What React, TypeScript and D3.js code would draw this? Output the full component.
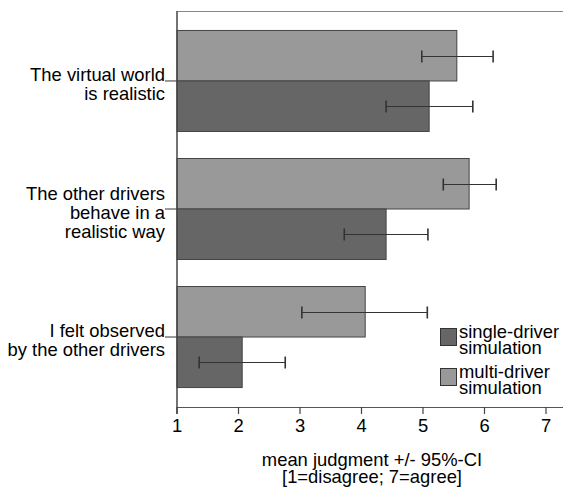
import React, { useEffect, useRef } from 'react';
import * as d3 from 'd3';

// questionnaire items, top to bottom
const categories = ['virtual', 'drivers', 'observed'];
const categoryLines = [
  ['The virtual world', 'is realistic'],
  ['The other drivers', 'behave in a', 'realistic way'],
  ['I felt observed', 'by the other drivers'],
];

const seriesKeys = ['multi', 'single'];
const seriesNames = [['single-driver', 'simulation'], ['multi-driver', 'simulation']];

// means and 95% CI bounds
const multiMean = [5.55, 5.75, 4.06];
const multiLow = [4.98, 5.33, 3.03];
const multiHigh = [6.14, 6.19, 5.07];
const singleMean = [5.1, 4.4, 2.06];
const singleLow = [4.4, 3.72, 1.36];
const singleHigh = [5.81, 5.08, 2.76];

const xTicks = [1, 2, 3, 4, 5, 6, 7];

const W = 563;
const H = 488;
const FONT = '"Liberation Sans", Arial, sans-serif';
const FS = '18.4px';
const COLORS: Record<string, string> = { multi: '#999999', single: '#666666' };

export default function App() {
  const svgRef = useRef<SVGSVGElement>(null);

  useEffect(() => {
    if (!svgRef.current) return;
    const svg = d3.select(svgRef.current);
    svg.selectAll('*').remove();

    const left = 177;
    const top = 11;
    const bottom = 407;

    const x = d3.scaleLinear().domain([1, 7]).range([left, 546]);

    const y = d3.scaleBand<string>()
      .domain(categories)
      .range([top, bottom])
      .paddingInner(0.211)
      .paddingOuter(0.152);

    const ySub = d3.scaleBand<string>()
      .domain(seriesKeys)
      .range([0, y.bandwidth()]);

    const rows = categories.map((c, i) => ({
      cat: c,
      items: [
        { key: 'multi', mean: multiMean[i], lo: multiLow[i], hi: multiHigh[i] },
        { key: 'single', mean: singleMean[i], lo: singleLow[i], hi: singleHigh[i] },
      ],
    }));

    // frame top line
    svg.append('line')
      .attr('x1', left).attr('x2', W)
      .attr('y1', top + 0.5).attr('y2', top + 0.5)
      .attr('stroke', '#888').attr('stroke-width', 1);

    const g = svg.append('g');

    rows.forEach(r => {
      const y0 = y(r.cat) || 0;
      r.items.forEach(it => {
        const yy = y0 + (ySub(it.key) || 0);
        g.append('rect')
          .attr('x', x(1))
          .attr('y', yy)
          .attr('width', x(it.mean) - x(1))
          .attr('height', ySub.bandwidth())
          .attr('fill', COLORS[it.key])
          .attr('stroke', '#444')
          .attr('stroke-width', 1);
      });
      r.items.forEach(it => {
        const cy = Math.round(y0 + (ySub(it.key) || 0) + ySub.bandwidth() / 2) + 0.5;
        g.append('line')
          .attr('x1', x(it.lo)).attr('x2', x(it.hi))
          .attr('y1', cy).attr('y2', cy)
          .attr('stroke', '#333').attr('stroke-width', 1);
        [it.lo, it.hi].forEach(v => {
          g.append('line')
            .attr('x1', x(v)).attr('x2', x(v))
            .attr('y1', cy - 6).attr('y2', cy + 6)
            .attr('stroke', '#333').attr('stroke-width', 1.6);
        });
      });
    });

    // category ticks and labels
    categories.forEach((c, i) => {
      const cy = (y(c) || 0) + y.bandwidth() / 2;
      svg.append('line')
        .attr('x1', 165).attr('x2', left)
        .attr('y1', cy).attr('y2', cy)
        .attr('stroke', '#333').attr('stroke-width', 1);
      const lines = categoryLines[i];
      const t = svg.append('text')
        .attr('text-anchor', 'end')
        .style('font-family', FONT)
        .style('font-size', FS)
        .attr('fill', '#000');
      lines.forEach((ln, j) => {
        t.append('tspan')
          .attr('x', 165)
          .attr('y', cy + 9.5 + (j - (lines.length - 1) / 2) * 19)
          .text(ln);
      });
    });

    // left axis
    svg.append('line')
      .attr('x1', left).attr('x2', left)
      .attr('y1', top).attr('y2', bottom + 7)
      .attr('stroke', '#444').attr('stroke-width', 1.5);

    // bottom axis
    svg.append('line')
      .attr('x1', left).attr('x2', W)
      .attr('y1', bottom + 0.5).attr('y2', bottom + 0.5)
      .attr('stroke', '#555').attr('stroke-width', 1);

    const ax = svg.append('g');
    xTicks.forEach(v => {
      ax.append('line')
        .attr('x1', x(v)).attr('x2', x(v))
        .attr('y1', bottom).attr('y2', bottom + 7)
        .attr('stroke', '#444').attr('stroke-width', 1.2);
      ax.append('text')
        .attr('x', x(v))
        .attr('y', 432)
        .attr('text-anchor', 'middle')
        .style('font-family', FONT)
        .style('font-size', FS)
        .attr('fill', '#000')
        .text(String(v));
    });

    // axis title
    const title = svg.append('text')
      .attr('text-anchor', 'middle')
      .style('font-family', FONT)
      .style('font-size', FS)
      .attr('fill', '#000');
    title.append('tspan').attr('x', 372).attr('y', 466).text('mean judgment +/- 95%-CI');
    title.append('tspan').attr('x', 372).attr('y', 483).text('[1=disagree; 7=agree]');

    // legend
    const legendKeys = ['single', 'multi'];
    const lg = svg.append('g');
    legendKeys.forEach((k, i) => {
      const by = 328 + i * 40;
      lg.append('rect')
        .attr('x', 440.5).attr('y', by + 0.5)
        .attr('width', 16).attr('height', 17)
        .attr('fill', COLORS[k])
        .attr('stroke', '#333').attr('stroke-width', 1);
      const t = lg.append('text')
        .style('font-family', FONT)
        .style('font-size', FS)
        .attr('fill', '#000');
      seriesNames[i].forEach((ln, j) => {
        t.append('tspan').attr('x', 459).attr('y', by + 9.5 + j * 16.5).text(ln);
      });
    });
  }, []);

  return (
    <svg
      ref={svgRef}
      width={W}
      height={H}
      style={{ position: 'absolute', left: 0, top: 0, background: '#fff' }}
    />
  );
}
